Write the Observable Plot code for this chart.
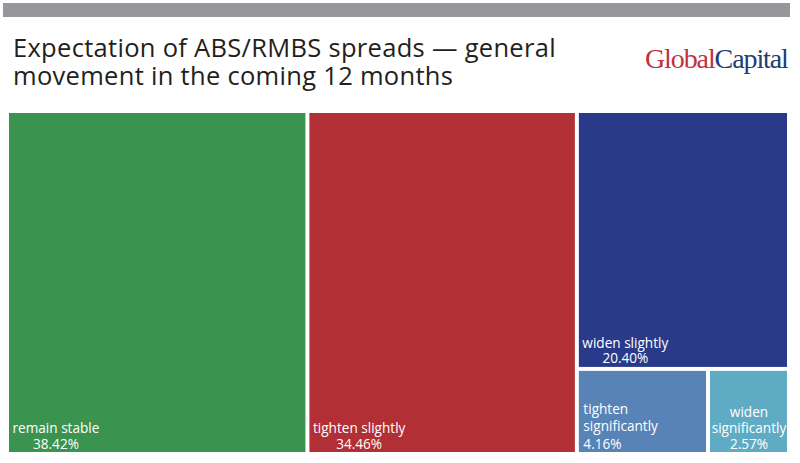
<!DOCTYPE html>
<html>
<head>
<meta charset="utf-8">
<script src="https://cdn.jsdelivr.net/npm/d3@7"></script>
<script src="https://cdn.jsdelivr.net/npm/@observablehq/plot@0.6"></script>
<style>
  html, body { margin: 0; padding: 0; background: #fff; }
  #page { position: relative; width: 800px; height: 463px; overflow: hidden; font-family: "Open Sans", Roboto, sans-serif; }
  #bar { position: absolute; left: 3px; top: 3px; width: 787px; height: 14px; background: #97979b; }
  #title { position: absolute; left: 13px; top: 33px; font-size: 25.5px; line-height: 28px; color: #231f20; letter-spacing: 0.3px; white-space: nowrap; }
  #logo { position: absolute; left: 645px; top: 43px; font-family: "Liberation Serif", "DejaVu Serif", serif; font-size: 28px; letter-spacing: -1.1px; white-space: nowrap; }
  #logo .g { color: #c1323c; }
  #logo .c { color: #223d6e; }
  #chart { position: absolute; left: 0; top: 110px; }
</style>
</head>
<body>
<div id="page">
  <div id="bar"></div>
  <div id="title">Expectation of ABS/RMBS spreads — general<br>movement in the coming 12 months</div>
  <div id="logo"><span class="g">Global</span><span class="c">Capital</span></div>
  <div id="chart"></div>
</div>
<script>
const categories = ["remain stable", "tighten slightly", "widen slightly", "tighten significantly", "widen significantly"];
const values = [38.42, 34.46, 20.40, 4.16, 2.57];
const colors = ["#3b9350", "#b22f35", "#2a3a8b", "#5883b7", "#5fabc3"];
const labelLines = [["remain stable"], ["tighten slightly"], ["widen slightly"], ["tighten", "significantly"], ["widen", "significantly"]];

const W = 778, H = 339;
const root = d3.hierarchy({children: categories.map((c, i) => ({name: c, value: values[i], i}))})
  .sum(d => d.value || 0);
d3.treemap().size([W, H]).paddingInner(4).tile(d3.treemapSquarify)(root);
const cells = root.leaves().map(l => ({...l.data, x0: l.x0, x1: l.x1, y0: l.y0, y1: l.y1}));

const fs = 13.6;
const ctx = document.createElement("canvas").getContext("2d");
ctx.font = fs + "px 'Open Sans'";

const labels = cells.map(c => {
  const lines = labelLines[c.i];
  const text = [...lines, values[c.i].toFixed(2) + "%"].join("\n");
  const firstW = ctx.measureText(lines[0]).width;
  let kind, x;
  if (c.i === 4) { kind = "center"; x = (c.x0 + c.x1) / 2; }
  else if (lines.length > 1) { kind = "left"; x = c.x0 + 4; }
  else { kind = "block"; x = c.x0 + 4 + firstW / 2 - 1; }
  return {text, x, y: c.y1 - 4, kind};
});

const plot = Plot.plot({
  width: 800,
  height: 353,
  margin: 0,
  x: {domain: [0, W], range: [9, 9 + W], axis: null},
  y: {domain: [0, H], range: [3, 3 + H], axis: null},
  style: {fontFamily: "'Open Sans', sans-serif"},
  marks: [
    Plot.rect(cells, {x1: "x0", x2: "x1", y1: "y0", y2: "y1", fill: d => colors[d.i]}),
    Plot.text(labels.filter(d => d.kind === "block"), {x: "x", y: "y", text: "text", textAnchor: "middle", lineAnchor: "bottom", lineHeight: 15.8 / fs, fill: "white", fontSize: fs}),
    Plot.text(labels.filter(d => d.kind === "left"), {x: "x", y: "y", text: "text", textAnchor: "start", lineAnchor: "bottom", lineHeight: 17.5 / fs, fill: "white", fontSize: fs}),
    Plot.text(labels.filter(d => d.kind === "center"), {x: "x", y: "y", text: "text", textAnchor: "middle", lineAnchor: "bottom", lineHeight: 15.6 / fs, fill: "white", fontSize: fs})
  ]
});
document.getElementById("chart").appendChild(plot);
</script>
</body>
</html>
